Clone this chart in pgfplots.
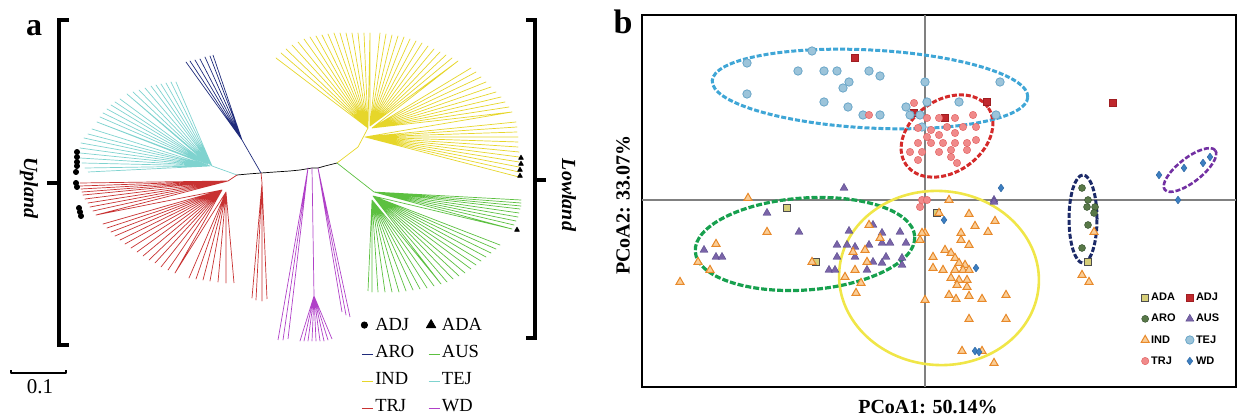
\documentclass[border=0pt]{standalone}
\usepackage{pgfplots}
\pgfplotsset{compat=1.18}
\usepackage{fontspec}
\setmainfont{Liberation Serif}
\newfontfamily\legfont{Liberation Sans}
\definecolor{tej}{HTML}{7FD3CF}
\definecolor{aro}{HTML}{1F2B7B}
\definecolor{ind}{HTML}{E6D62A}
\definecolor{aus}{HTML}{5CC040}
\definecolor{trj}{HTML}{C83232}
\definecolor{wd}{HTML}{B040C8}
\definecolor{elTEJ}{HTML}{3FA6D6}
\definecolor{elTRJ}{HTML}{D42A2A}
\definecolor{elAUS}{HTML}{17A04E}
\definecolor{elIND}{HTML}{F0E648}
\definecolor{elARO}{HTML}{1C2A68}
\definecolor{elWD}{HTML}{7230A2}
\pgfplotsset{dashleg/.style={legend image code/.code={\draw[##1] (6pt,-2pt) -- (17pt,-2pt);}}}
\begin{document}
\begin{tikzpicture}[x=1pt,y=1pt]
\path[use as bounding box] (0,0) rectangle (1239,419);
% ---------------- panel a ----------------
\begin{axis}[at={(0pt,0pt)},anchor=south west,scale only axis,width=600pt,height=419pt,
  xmin=0,xmax=600,ymin=0,ymax=419,y dir=reverse,hide axis,clip=false,
  every axis plot/.append style={line join=round,line width=0.7pt,mark=none},
  legend columns=2,
  legend style={at={(axis cs:358,314)},anchor=north west,draw=none,fill=none,
    font=\fontsize{18.5}{20}\selectfont,row sep=9.5pt,
    /tikz/every even column/.append style={column sep=10pt}},
  legend cell align=left]
% black backbone
\addplot[black,forget plot] coordinates {(237,175)(248,174)(261,173)(275,172)(290,171)(300,170)(312,168)(318,168)(325,166)(337,163)};
% TEJ
\addplot[tej,forget plot] coordinates {(237,175)(212,166)(176,82)(212,166)(171,82)(212,166)(166,83)(212,166)(161,84)(212,166)(156,85)(212,166)(151,86)(212,166)(145,88)(212,166)(139,90)(212,166)(133,92)(212,166)(127,94)
 (208,164)(120,99)(208,164)(115,102)(208,164)(111,105)(208,164)(107,109)(208,164)(103,113)(208,164)(100,117)(208,164)(97,122)
 (210,166)(92,129)(210,166)(88,134)(210,166)(84,138)(210,166)(81,143)(210,166)(80,148)(210,166)(80,153)(210,166)(80,158)(210,166)(82,163)(210,166)(85,168)(210,166)(88,172)};
% ARO
\addplot[aro,forget plot] coordinates {(261,173)(242,140)(186,62)(242,140)(190,61)(242,140)(195,60)(242,140)(200,59)(242,140)(205,57)(242,140)(210,56)(242,140)(213,55)};
% TRJ
\addplot[trj,forget plot] coordinates {(237,175)(228,181)(80,183)(228,181)(80,186)(228,181)(81,189)(228,181)(82,192)(228,181)(83,195)(228,181)(85,199)(228,181)(88,203)(228,181)(90,207)(228,181)(93,211)(228,181)(96,215)
 (222,190)(103,224)(222,190)(107,228)(222,190)(111,232)(222,190)(115,236)(222,190)(120,240)(222,190)(125,244)(222,190)(131,248)(222,190)(137,252)(222,190)(143,256)(222,190)(149,260)(222,190)(155,263)(222,190)(161,267)(222,190)(168,270)(222,190)(175,273)
 (226,192)(189,278)(226,192)(196,279)(226,192)(203,280)(226,192)(210,281)(226,192)(218,282)(226,192)(226,283)(226,192)(234,283)};
\addplot[trj,forget plot] coordinates {(261,173)(262,183)(252,298)(262,183)(256,300)(262,183)(262,301)(262,183)(267,299)};
% WD
\addplot[wd,forget plot] coordinates {(288,339)(308,168)(283,340)(308,168)(278,340)};
\addplot[wd,forget plot] coordinates {(350,317)(318,168)(346,315)(318,168)(342,312)};
\addplot[wd,forget plot] coordinates {(312,168)(314,296)(300,341)(314,296)(304,341)(314,296)(308,341)(314,296)(312,341)(314,296)(316,341)(314,296)(320,341)(314,296)(324,341)(314,296)(328,340)(314,296)(332,339)};
% IND
\addplot[ind,forget plot] coordinates {(337,163)(358,147)(368,128)(276,58)(368,128)(281,53)(368,128)(286,49)(368,128)(292,45)(368,128)(298,42)(368,128)(304,39)(368,128)(310,37)(368,128)(316,36)(368,128)(322,35)(368,128)(328,34)(368,128)(334,33)(368,128)(340,33)(368,128)(346,33)(368,128)(352,33)(368,128)(358,33)(368,128)(364,33)(368,128)(370,33)
 (370,126)(380,33)(370,126)(386,34)(370,126)(392,35)(370,126)(398,36)(370,126)(404,37)(370,126)(410,39)(370,126)(416,41)(370,126)(422,43)(370,126)(428,46)(370,126)(434,49)(370,126)(440,52)(370,126)(446,55)(370,126)(452,58)(370,126)(458,61)
 (372,128)(471,68)(372,128)(476,72)(372,128)(481,77)(372,128)(486,82)(372,128)(491,87)(372,128)(496,92)(372,128)(501,97)(372,128)(505,102)(372,128)(509,107)(372,128)(512,112)
 (365,137)(516,122)(365,137)(517,127)(365,137)(517,132)(365,137)(518,137)(365,137)(518,142)(365,137)(518,147)(365,137)(519,152)(365,137)(519,157)(365,137)(519,162)(365,137)(519,167)(365,137)(519,172)(365,137)(519,177)};
% AUS
\addplot[aus,forget plot] coordinates {(337,163)(374,192)(521,200)(374,192)(521,203)(374,192)(521,206)(374,192)(520,209)(374,192)(519,213)(374,192)(518,217)(374,192)(516,221)(374,192)(514,225)(374,192)(512,229)
 (373,196)(500,245)(373,196)(496,249)(373,196)(491,253)(373,196)(486,257)(373,196)(481,261)(373,196)(476,265)(373,196)(471,269)(373,196)(465,273)(373,196)(459,276)(373,196)(453,279)(373,196)(447,282)(373,196)(441,284)
 (372,200)(434,286)(372,200)(427,288)(372,200)(420,289)(372,200)(413,290)(372,200)(406,291)(372,200)(399,292)(372,200)(392,292)(372,200)(385,292)(372,200)(378,292)(372,200)(372,292)(372,200)(368,291)};
% ADJ dots and ADA triangles
\addplot[only marks,mark=*,mark size=2.6pt,black,forget plot] coordinates {(77,152)(77,157)(77,162)(77,166)(76,172)(76,183)(77,187)(79,208)(80,212)(81,216)};
\addplot[only marks,mark=triangle*,mark size=2.8pt,black,forget plot] coordinates {(521,158)(521,164)(520,170)(520,176)(517,230)};
% brackets
\addplot[black,line width=3.5pt,line join=miter,forget plot] coordinates {(69,20)(59,20)(59,345)(69,345)};
\addplot[black,line width=3.5pt,forget plot] coordinates {(59,183)(47,183)};
\addplot[black,line width=3.5pt,line join=miter,forget plot] coordinates {(526,20)(535,20)(535,338)(526,338)};
\addplot[black,line width=3.5pt,forget plot] coordinates {(535,180)(546,180)};
% scale bar
\addplot[black,line width=1.2pt,forget plot] coordinates {(11,370)(11,373)(66,373)(66,370)};
% legend
\addlegendimage{only marks,mark=*,mark size=3.2pt,black}
\addlegendentry{ADJ}
\addlegendimage{only marks,mark=triangle*,mark size=5.5pt,black}
\addlegendentry{ADA}
\addlegendimage{aro,line width=0.8pt,dashleg}
\addlegendentry{ARO}
\addlegendimage{aus,line width=0.8pt,dashleg}
\addlegendentry{AUS}
\addlegendimage{ind,line width=0.8pt,dashleg}
\addlegendentry{IND}
\addlegendimage{tej,line width=0.8pt,dashleg}
\addlegendentry{TEJ}
\addlegendimage{trj,line width=0.8pt,dashleg}
\addlegendentry{TRJ}
\addlegendimage{wd,line width=0.8pt,dashleg}
\addlegendentry{WD}
\node[font=\bfseries\fontsize{32}{32}\selectfont] at (axis cs:34,28) {a};
\node[rotate=-90,font=\bfseries\itshape\fontsize{20}{20}\selectfont] at (axis cs:29,188) {Upland};
\node[rotate=-90,font=\bfseries\itshape\fontsize{20}{20}\selectfont] at (axis cs:569,195) {Lowland};
\node[font=\fontsize{21}{21}\selectfont] at (axis cs:40,387) {0.1};
\end{axis}
% ---------------- panel b ----------------
\begin{axis}[at={(642pt,32pt)},anchor=south west,scale only axis,width=594pt,height=372pt,
  xmin=642,xmax=1236,ymin=15,ymax=387,y dir=reverse,clip=false,
  xtick=\empty,ytick=\empty,axis line style={line width=2.6pt},
  legend columns=2,
  legend style={at={(axis cs:1138,289)},anchor=north west,draw=none,fill=none,
    font=\legfont\bfseries\fontsize{11}{12}\selectfont,row sep=8pt,
    /tikz/every even column/.append style={column sep=8pt}},
  legend cell align=left]
\addplot[gray,line width=1.2pt,forget plot] coordinates {(925,15)(925,387)};
\addplot[gray,line width=1.2pt,forget plot] coordinates {(642,200)(1236,200)};
% ellipses
\draw[elTEJ,line width=3pt,dash pattern=on 5pt off 2pt,rotate around={-3:(axis cs:870,89)}] (axis cs:870,89) ellipse [x radius=158pt,y radius=39pt];
\draw[elTRJ,line width=3pt,dash pattern=on 5pt off 2pt,rotate around={35:(axis cs:947,136)}] (axis cs:947,136) ellipse [x radius=50pt,y radius=36pt];
\draw[elAUS,line width=3.2pt,dash pattern=on 6pt off 2pt,rotate around={4:(axis cs:805,244)}] (axis cs:805,244) ellipse [x radius=110pt,y radius=46pt];
\draw[elIND,line width=2.6pt,rotate around={-5:(axis cs:939,278)}] (axis cs:939,278) ellipse [x radius=100pt,y radius=87pt];
\draw[elARO,line width=3pt,dash pattern=on 5pt off 2pt] (axis cs:1083,219) ellipse [x radius=14pt,y radius=44pt];
\draw[elWD,line width=2.6pt,dash pattern=on 5pt off 2pt,rotate around={38:(axis cs:1190,170)}] (axis cs:1190,170) ellipse [x radius=32pt,y radius=12pt];
% ADA
\addplot[only marks,mark=square*,mark size=3.4pt,mark options={fill={rgb,255:red,214;green,206;blue,120},draw=gray!60!black,line width=0.8pt}] coordinates {(787,208)(937,213)(816,262)(1088,262)};
\addlegendentry{ADA}
% ADJ
\addplot[only marks,mark=square*,mark size=3.6pt,mark options={fill={rgb,255:red,192;green,40;blue,45},draw={rgb,255:red,160;green,30;blue,34}}] coordinates {(855,58)(987,102)(1113,103)(945,118)(914,113)};
\addlegendentry{ADJ}
% ARO
\addplot[only marks,mark=*,mark size=3.5pt,mark options={fill={rgb,255:red,88;green,120;blue,72},draw={rgb,255:red,46;green,74;blue,40}}] coordinates {(1082,188)(1088,200)(1087,207)(1095,207)(1094,213)(1088,225)(1082,248)};
\addlegendentry{ARO}
% AUS
\addplot[only marks,mark=triangle*,mark size=4.6pt,mark options={fill={rgb,255:red,122;green,100;blue,168},draw={rgb,255:red,84;green,70;blue,138}}] coordinates {(844,188)(994,200)(767,213)(799,232)(704,250)(716,257)(722,257)(849,231)(873,225)(882,233)(900,232)(837,245)(847,245)(855,247)(869,245)(882,243)(890,243)(906,243)(837,257)(855,257)(873,262)(886,257)(882,263)(902,258)(829,270)(835,270)(867,270)(902,265)(994,202)};
\addlegendentry{AUS}
% IND
\addplot[only marks,mark=triangle*,mark size=4.6pt,mark options={fill={rgb,255:red,250;green,205;blue,150},draw={rgb,255:red,232;green,137;blue,42},line width=1pt}] coordinates {(748,198)(949,200)(767,232)(812,262)(716,244)(698,262)(710,270)(680,282)(856,293)(861,283)(845,277)(855,270)(867,262)(865,250)(853,252)(880,238)(869,225)(920,240)(925,233)(969,214)(975,226)(988,232)(995,221)(961,233)(961,240)(969,245)(933,257)(933,268)(945,250)(951,253)(943,270)(955,258)(959,263)(965,265)(955,270)(963,270)(969,270)(951,278)(959,280)(967,280)(957,285)(967,287)(949,295)(956,299)(969,296)(982,299)(1006,295)(925,300)(969,319)(1006,319)(962,351)(982,351)(994,363)(1082,275)(1089,282)(1094,232)(939,213)(922,233)};
\addlegendentry{IND}
% TEJ
\addplot[only marks,mark=*,mark size=4.2pt,mark options={fill={rgb,255:red,156;green,196;blue,218},draw={rgb,255:red,106;green,166;blue,200},line width=0.8pt}] coordinates {(812,51)(747,63)(798,71)(824,71)(837,71)(869,71)(880,76)(925,82)(1000,82)(849,82)(843,88)(747,94)(824,102)(848,107)(863,115)(880,115)(906,107)(910,115)(920,115)(959,102)(922,127)(927,102)(996,115)};
\addlegendentry{TEJ}
% TRJ
\addplot[only marks,mark=*,mark size=3.7pt,mark options={fill={rgb,255:red,240;green,138;blue,138},draw={rgb,255:red,224;green,90;blue,90}}] coordinates {(914,103)(927,118)(939,118)(955,118)(973,115)(918,128)(931,130)(947,127)(963,127)(976,127)(927,137)(939,135)(955,133)(918,143)(931,143)(943,143)(955,143)(967,143)(976,140)(910,152)(922,152)(939,152)(951,150)(967,150)(918,160)(951,157)(957,163)(869,115)(922,200)(927,200)(920,207)};
\addlegendentry{TRJ}
% WD
\addplot[only marks,mark=diamond*,mark size=3.9pt,mark options={fill={rgb,255:red,60;green,126;blue,192},draw={rgb,255:red,42;green,100;blue,160}}] coordinates {(1001,188)(1159,175)(1178,200)(1184,168)(1203,163)(1210,157)(944,220)(976,268)(975,351)(979,352)};
\addlegendentry{WD}
\node[font=\bfseries\fontsize{34}{34}\selectfont] at (axis cs:623,22) {b};
\node[font=\bfseries\fontsize{20}{20}\selectfont] at (axis cs:928,407) {PCoA1: 50.14\%};
\node[rotate=90,font=\bfseries\fontsize{20}{20}\selectfont] at (axis cs:623,205) {PCoA2: 33.07\%};
\end{axis}
\end{tikzpicture}
\end{document}
